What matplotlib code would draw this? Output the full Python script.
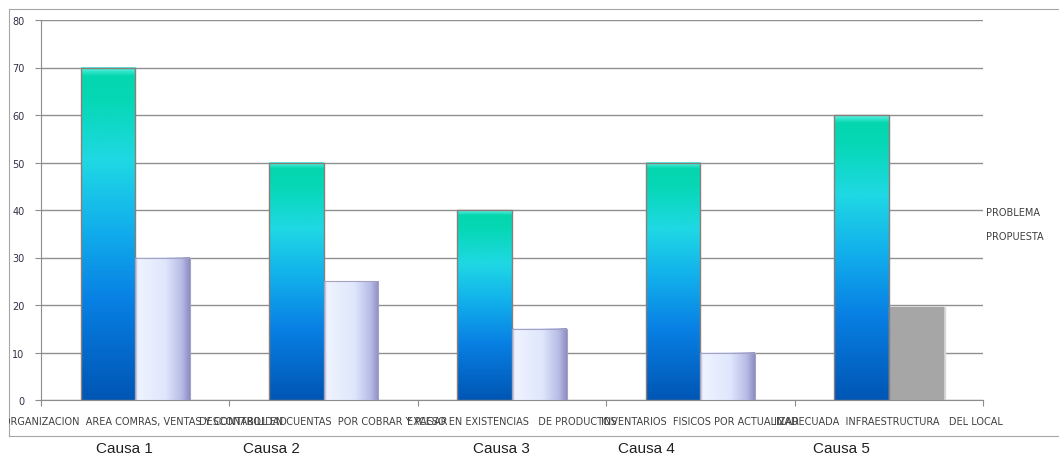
import numpy as np
import matplotlib
matplotlib.use("Agg")
import matplotlib.pyplot as plt
from matplotlib.colors import LinearSegmentedColormap

# data
categorias = [
    "DESORGANIZACION  AREA COMRAS, VENTAS Y CONTABILIDAD",
    "DESCONTROL EN CUENTAS  POR COBRAR Y PAGAR",
    "EXCESO EN EXISTENCIAS   DE PRODUCTOS",
    "INVENTARIOS  FISICOS POR ACTUALIZAR",
    "INADECUADA  INFRAESTRUCTURA   DEL LOCAL",
]
problema = [70, 50, 40, 50, 60]
propuesta = [30, 25, 15, 10, 19.5]
causas = ["Causa 1", "Causa 2", "Causa 3", "Causa 4", "Causa 5"]
causa_x = [124, 271, 501, 646, 841]  # pixel centres of the labels under the frame

W, H = 1059, 456
fig = plt.figure(figsize=(W / 100, H / 100), dpi=100)

# outer chart frame
frame = fig.add_axes([9 / W, 1 - 437 / H, 1 - 9 / W, (437 - 10) / H])
frame.set_xticks([])
frame.set_yticks([])
for s in frame.spines.values():
    s.set_color("#a6a6a6")
frame.spines["right"].set_visible(False)
frame.set_zorder(0)

ax = fig.add_axes([41 / W, 1 - 401 / H, (983 - 41) / W, (401 - 21) / H])
ax.patch.set_alpha(0)
ax.set_xlim(0, 5)
ax.set_ylim(0, 80)

for s in ["top", "right"]:
    ax.spines[s].set_visible(False)
ax.spines["left"].set_color("#8c8c8c")
ax.spines["bottom"].set_color("#8c8c8c")
ax.set_yticks(range(0, 81, 10))
ax.set_yticklabels([str(v) for v in range(0, 81, 10)], fontsize=7, color="#303048")
ax.tick_params(axis="y", length=4, color="#8c8c8c", pad=8)
ax.set_xticks(range(0, 6))
ax.set_xticklabels([])
ax.tick_params(axis="x", length=4, color="#8c8c8c")
ax.yaxis.grid(True, color="#8f8f8f", linewidth=1)
ax.set_axisbelow(True)

# gradients
prob_cmap = LinearSegmentedColormap.from_list(
    "prob", [(0.0, "#0056b4"), (0.3, "#0880e4"), (0.52, "#12b0ec"),
             (0.72, "#1fd8e4"), (0.9, "#06d8b6"), (0.975, "#04d6ae"), (1.0, "#5cf2e6")])
prop_cmap = LinearSegmentedColormap.from_list(
    "prop", [(0.0, "#c4cfee"), (0.06, "#eef3ff"), (0.55, "#dfe7fc"), (0.85, "#b8bce6"), (1.0, "#8c8cc2")])

bw = 0.29
vgrad = np.linspace(0, 1, 256).reshape(-1, 1)
hgrad = np.linspace(0, 1, 256).reshape(1, -1)

for i in range(len(categorias)):
    c = i + 0.5
    # problema bar
    ax.imshow(vgrad, cmap=prob_cmap, origin="lower", aspect="auto",
              extent=[c - bw, c, 0, problema[i]], zorder=3)
    ax.add_patch(plt.Rectangle((c - bw, 0), bw, problema[i], fill=False,
                               edgecolor="#8a7f78", linewidth=1, zorder=4))
    # propuesta bar
    if i < 4:
        ax.imshow(hgrad, cmap=prop_cmap, origin="lower", aspect="auto",
                  extent=[c, c + bw, 0, propuesta[i]], zorder=3)
        ax.add_patch(plt.Rectangle((c, 0), bw, propuesta[i], fill=False,
                                   edgecolor="#a4a2c0", linewidth=0.8, zorder=4))
    else:
        ax.add_patch(plt.Rectangle((c + 0.01, 0), bw, propuesta[i], color="#d8d8d8", zorder=2))
        ax.add_patch(plt.Rectangle((c, 0), bw, propuesta[i], color="#a6a6a6", zorder=3))

# category labels, clipped by the outer frame
for i, lab in enumerate(categorias):
    t = ax.text(i + 0.5, -4.4, lab, ha="center", va="center", fontsize=7,
                color="#404040", clip_on=True)
    t.set_clip_path(frame.patch)

# legend (text only)
ax.text(1.003, 39.6 / 80, "PROBLEMA", transform=ax.transAxes, fontsize=7,
        color="#404040", va="center", ha="left")
ax.text(1.003, 34.6 / 80, "PROPUESTA", transform=ax.transAxes, fontsize=7,
        color="#404040", va="center", ha="left")

for x, lab in zip(causa_x, causas):
    fig.text(x / W, 1 - 449 / H, lab, ha="center", va="center", fontsize=11,
             family="Liberation Sans", color="#202020")

fig.savefig("out.png", dpi=100)
